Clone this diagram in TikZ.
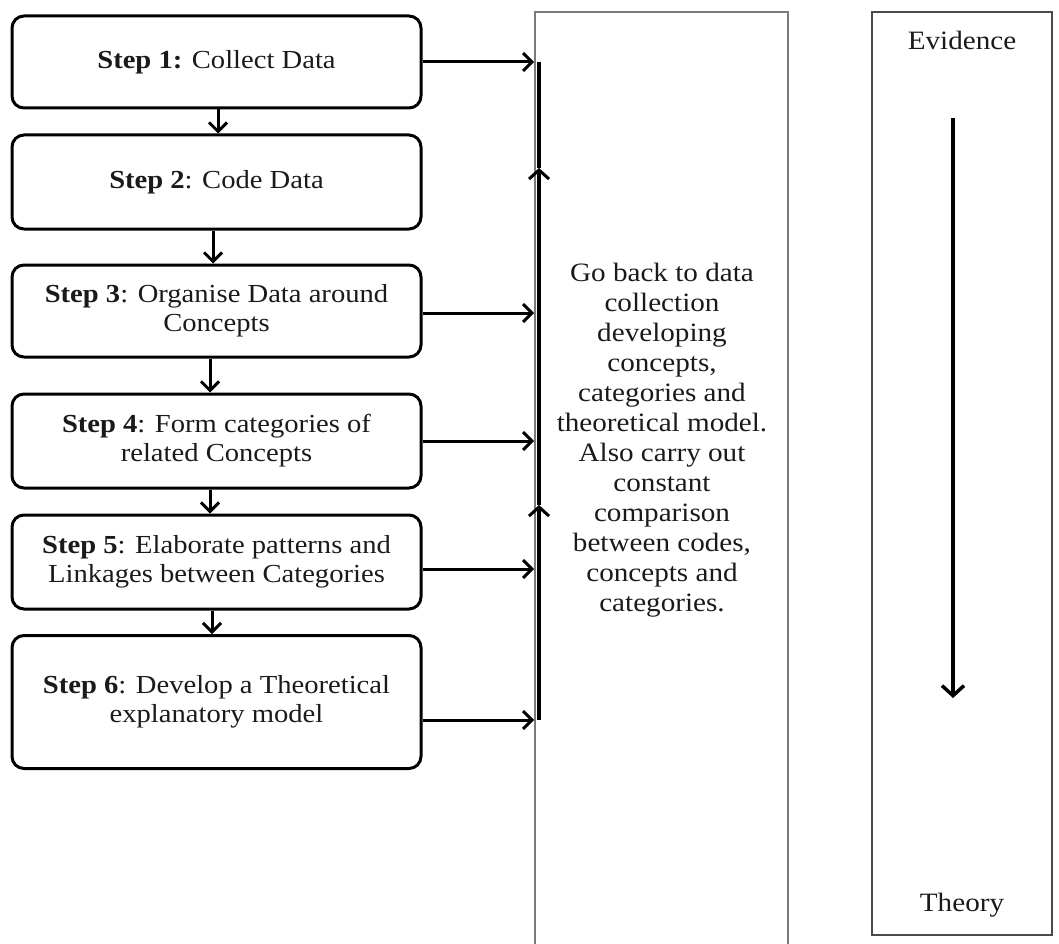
\documentclass[tikz,border=0pt]{standalone}
\usepackage{fontspec}
\setmainfont{Liberation Serif}[FakeStretch=1.1]
\usetikzlibrary{arrows.meta}
\definecolor{txt}{HTML}{1A1A1A}
\definecolor{midgray}{HTML}{7A7A7A}
\definecolor{rgray}{HTML}{4A4A4A}
\tikzset{
  stepbox/.style={draw=black, line width=3pt, rounded corners=12pt,
    minimum width=409pt, inner sep=0pt, align=center, text=txt,
    font=\fontsize{26}{29}\selectfont},
  flow/.style={line width=3pt, -{Straight Barb[length=9pt,width=18pt,line width=3pt]}},
  barline/.style={line width=3.2pt},
  barhead/.style={line width=3.2pt, -{Straight Barb[length=9pt,width=20pt,line width=3pt]}},
  plain/.style={text=txt, font=\fontsize{26.5}{30}\selectfont, align=center, inner sep=0pt},
}
\begin{document}
\begin{tikzpicture}[x=1pt,y=-1pt]
\useasboundingbox (0,0) rectangle (1059,944);
% steps
\node[stepbox, minimum height=92pt]  (s1) at (216.5,62)  {\textbf{Step 1:} Collect Data};
\node[stepbox, minimum height=94pt]  (s2) at (216.5,182) {\textbf{Step 2}: Code Data};
\node[stepbox, minimum height=92pt]  (s3) at (216.5,311) {\textbf{Step 3}: Organise Data around\\Concepts};
\node[stepbox, minimum height=94pt]  (s4) at (216.5,441) {\textbf{Step 4}: Form categories of\\related Concepts};
\node[stepbox, minimum height=94pt]  (s5) at (216.5,562) {\textbf{Step 5}: Elaborate patterns and\\Linkages between Categories};
\node[stepbox, minimum height=133pt] (s6) at (216.5,702) {\textbf{Step 6}: Develop a Theoretical\\explanatory model};
% middle box
\node[draw=midgray, line width=1.6pt, minimum width=253pt, minimum height=960pt, inner sep=0pt] (mid) at (661.5,492) {};
\node[plain] (midtext) at (662,440) {Go back to data\\collection\\developing\\concepts,\\categories and\\theoretical model.\\Also carry out\\constant\\comparison\\between codes,\\concepts and\\categories.};
% right box
\node[draw=rgray, line width=2pt, minimum width=180pt, minimum height=923pt, inner sep=0pt] (ev) at (962,473.5) {};
\node[plain] (evid) at (962,40) {Evidence};
\node[plain] (theo) at (962,905) {Theory};
\coordinate (et) at (953,118);
\coordinate (eb) at (953,698);
\draw[line width=3.2pt, -{Straight Barb[length=10pt,width=22pt,line width=3.5pt]}] (et) -- (eb);
% down arrows
\draw[flow] ([xshift=1.5pt]s1.south) -- ([xshift=1.5pt]s2.north);
\draw[flow] ([xshift=-3.5pt]s2.south) -- ([xshift=-3.5pt]s3.north);
\draw[flow] ([xshift=-6.5pt]s3.south) -- ([xshift=-6.5pt]s4.north);
\draw[flow] ([xshift=-6.5pt]s4.south) -- ([xshift=-6.5pt]s5.north);
\draw[flow] ([xshift=-4.5pt]s5.south) -- ([xshift=-4.5pt]s6.north);
% feedback bar
\coordinate (b1) at (539,62);
\coordinate (bB) at (539,168);
\coordinate (bA) at (539,505);
\coordinate (b6) at (539,720);
\draw[barhead] (b6) -- (bA);
\draw[barhead] (bA) -- (bB);
\draw[barline] (bB) -- (b1);
% horizontal arrows
\draw[flow] (s1.east) -- (s1.east -| mid.west);
\draw[flow] ([yshift=-2pt]s3.east) -- ([yshift=-2pt]s3.east -| mid.west);
\draw[flow] (s4.east) -- (s4.east -| mid.west);
\draw[flow] ([yshift=-7pt]s5.east) -- ([yshift=-7pt]s5.east -| mid.west);
\draw[flow] (s6.east |- b6) -- (b6 -| mid.west);
\end{tikzpicture}
\end{document}
